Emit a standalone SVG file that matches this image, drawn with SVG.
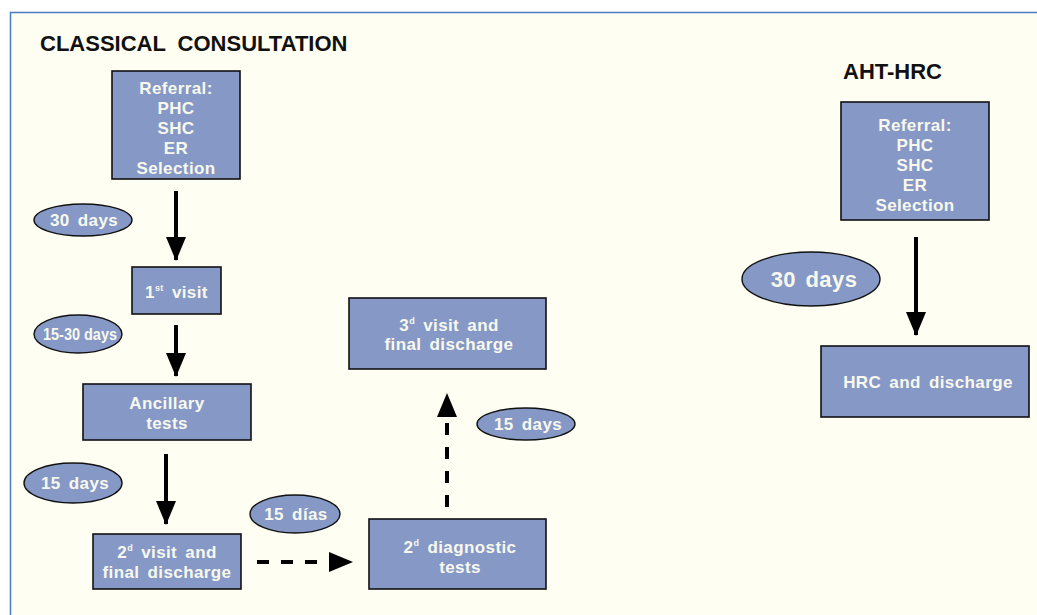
<svg xmlns="http://www.w3.org/2000/svg" width="1037" height="615" viewBox="0 0 1037 615">
<defs>
<style>
.box{fill:#8598c6;stroke:#111;stroke-width:1.6}
.oval{fill:#8598c6;stroke:#111;stroke-width:1.4}
.t{font-family:"Liberation Sans",Arial,sans-serif;font-weight:bold;font-size:17px;fill:#f8f8ee;text-anchor:middle;word-spacing:3px;letter-spacing:0.4px}
.sup{font-size:9px}
.title{font-family:"Liberation Sans",Arial,sans-serif;font-weight:bold;font-size:22px;fill:#111;word-spacing:6px}
.solid{stroke:#000;stroke-width:4;fill:none}
.dash{stroke:#000;stroke-width:4;fill:none;stroke-dasharray:12 12}
</style>
<marker id="ah" markerUnits="userSpaceOnUse" markerWidth="24" markerHeight="20" refX="23" refY="10" orient="auto" viewBox="0 0 24 20">
<path d="M0,0 L24,10 L0,20 z" fill="#000"/>
</marker>
</defs>
<rect x="0" y="0" width="1037" height="615" fill="#ffffff"/>
<rect x="10.5" y="12.5" width="1040" height="620" fill="#fefef3" stroke="#4a7cc0" stroke-width="1.5"/>
<text class="title" x="40" y="51">CLASSICAL CONSULTATION</text>
<text class="title" x="843" y="79">AHT-HRC</text>

<g id="connectors">
<line class="solid" x1="176" y1="191" x2="176" y2="260" marker-end="url(#ah)"/>
<line class="solid" x1="176" y1="325" x2="176" y2="376" marker-end="url(#ah)"/>
<line class="solid" x1="166" y1="454" x2="166" y2="524" marker-end="url(#ah)"/>
<line class="dash" x1="257" y1="562" x2="352" y2="562" marker-end="url(#ah)"/>
<line class="dash" x1="447" y1="507" x2="447" y2="394" marker-end="url(#ah)"/>
<line class="solid" x1="916" y1="237" x2="916" y2="335" marker-end="url(#ah)"/>
</g>

<g id="referral-classical">
<rect class="box" x="112" y="71" width="128" height="108"/>
<text class="t" x="176" y="94">Referral:</text>
<text class="t" x="176" y="114">PHC</text>
<text class="t" x="176" y="134">SHC</text>
<text class="t" x="176" y="154">ER</text>
<text class="t" x="176" y="174">Selection</text>
</g>
<g id="label-30days">
<ellipse class="oval" cx="83" cy="220" rx="49" ry="16"/>
<text class="t" x="84" y="226">30 days</text>
</g>
<g id="first-visit">
<rect class="box" x="132" y="267" width="89" height="47"/>
<text class="t" x="176.5" y="298">1<tspan class="sup" dy="-7">st</tspan><tspan dy="7"> visit</tspan></text>
</g>
<g id="label-15-30days">
<ellipse class="oval" cx="78" cy="334" rx="44" ry="19"/>
<text class="t" x="80" y="340" textLength="74" lengthAdjust="spacingAndGlyphs" style="word-spacing:0;letter-spacing:0">15-30 days</text>
</g>
<g id="ancillary-tests">
<rect class="box" x="83" y="384" width="168" height="56"/>
<text class="t" x="167" y="409">Ancillary</text>
<text class="t" x="167" y="429">tests</text>
</g>
<g id="label-15days-a">
<ellipse class="oval" cx="73" cy="483" rx="49" ry="20"/>
<text class="t" x="75" y="489">15 days</text>
</g>
<g id="second-visit">
<rect class="box" x="93" y="534" width="148" height="55"/>
<text class="t" x="167" y="558">2<tspan class="sup" dy="-7">d</tspan><tspan dy="7"> visit and</tspan></text>
<text class="t" x="167" y="578">final discharge</text>
</g>
<g id="label-15dias">
<ellipse class="oval" cx="295" cy="514" rx="45" ry="19"/>
<text class="t" x="296" y="520">15 días</text>
</g>
<g id="second-diagnostic-tests">
<rect class="box" x="369" y="519" width="177" height="70"/>
<text class="t" x="460" y="553">2<tspan class="sup" dy="-7">d</tspan><tspan dy="7"> diagnostic</tspan></text>
<text class="t" x="460" y="573">tests</text>
</g>
<g id="label-15days-b">
<ellipse class="oval" cx="526" cy="424" rx="49" ry="16"/>
<text class="t" x="528" y="430">15 days</text>
</g>
<g id="third-visit">
<rect class="box" x="349" y="298" width="197" height="71"/>
<text class="t" x="449" y="331">3<tspan class="sup" dy="-7">d</tspan><tspan dy="7"> visit and</tspan></text>
<text class="t" x="449" y="350">final discharge</text>
</g>

<g id="referral-aht">
<rect class="box" x="841" y="102" width="148" height="118"/>
<text class="t" x="915" y="131">Referral:</text>
<text class="t" x="915" y="151">PHC</text>
<text class="t" x="915" y="171">SHC</text>
<text class="t" x="915" y="191">ER</text>
<text class="t" x="915" y="211">Selection</text>
</g>
<g id="label-30days-aht">
<ellipse class="oval" cx="811" cy="279" rx="69" ry="27"/>
<text class="t" x="814" y="287" style="font-size:22px">30 days</text>
</g>
<g id="hrc-discharge">
<rect class="box" x="821" y="346" width="208" height="71"/>
<text class="t" x="928" y="388">HRC and discharge</text>
</g>
</svg>
